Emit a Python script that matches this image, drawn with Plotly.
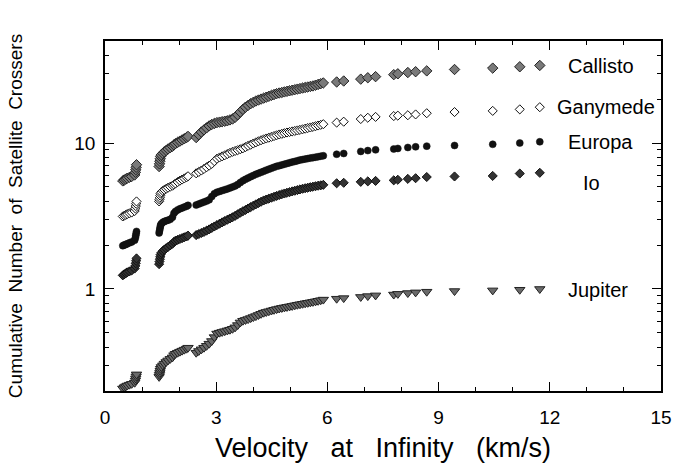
import plotly.graph_objects as go
import numpy as np

# Shared velocities at infinity (km/s) of the crossing objects
velocity = [
    0.48, 0.52, 0.56, 0.60, 0.66, 0.72, 0.80, 0.82, 0.83, 0.84, 0.85,
    1.46, 1.47, 1.48, 1.49, 1.50, 1.52, 1.56, 1.60, 1.65, 1.70,
    1.76, 1.82, 1.86, 1.90, 1.96, 2.02, 2.08, 2.14, 2.20, 2.24,
    2.46, 2.53, 2.60, 2.67, 2.74, 2.81, 2.88, 2.95, 3.02, 3.09,
    3.16, 3.23, 3.30, 3.37, 3.44, 3.51, 3.58, 3.65, 3.72, 3.79,
    3.86, 3.93, 4.00, 4.07, 4.14, 4.21, 4.28, 4.35, 4.42, 4.49,
    4.56, 4.63, 4.70, 4.77, 4.84, 4.91, 4.98, 5.05, 5.12, 5.19,
    5.26, 5.33, 5.40, 5.47, 5.54, 5.61, 5.68, 5.75, 5.82, 5.89,
    6.25, 6.44, 6.90, 7.09, 7.30, 7.79, 7.90, 8.17, 8.38, 8.68,
    9.43, 10.46, 11.19, 11.73,
]

callisto = [
    5.50, 5.58, 5.66, 5.74, 5.82, 5.90, 6.04, 6.30, 6.56, 6.82, 7.10,
    6.90, 7.20, 7.50, 7.80, 8.10, 8.30, 8.50, 8.70, 8.90, 9.10,
    9.30, 9.50, 9.70, 9.90, 10.10, 10.30, 10.50, 10.70, 10.90, 11.10,
    10.9, 11.4, 11.9, 12.3, 12.7, 13.1, 13.4, 13.6, 13.8, 13.9,
    14.0, 14.1, 14.2, 14.4, 14.6, 15.0, 15.6, 16.3, 17.0, 17.6,
    18.1, 18.6, 19.0, 19.4, 19.7, 20.0, 20.3, 20.6, 20.9, 21.2,
    21.5, 21.8, 22.0, 22.2, 22.4, 22.6, 22.8, 23.0, 23.2, 23.4,
    23.6, 23.8, 24.0, 24.2, 24.4, 24.6, 24.9, 25.2, 25.5, 25.8,
    26.2, 26.6, 27.4, 28.0, 28.5, 29.4, 29.8, 30.4, 30.8, 31.2,
    31.9, 32.6, 33.3, 34.0,
]

ganymede = [
    3.14, 3.18, 3.22, 3.26, 3.30, 3.34, 3.42, 3.56, 3.70, 3.84, 3.98,
    3.98, 4.10, 4.22, 4.36, 4.50, 4.60, 4.70, 4.78, 4.86, 4.94,
    5.02, 5.10, 5.18, 5.28, 5.40, 5.52, 5.62, 5.72, 5.82, 5.92,
    6.20, 6.34, 6.48, 6.64, 6.82, 7.00, 7.20, 7.50, 7.80, 7.96,
    8.10, 8.24, 8.40, 8.56, 8.70, 8.82, 8.94, 9.06, 9.20, 9.38,
    9.56, 9.74, 9.92, 10.10, 10.28, 10.44, 10.60, 10.74, 10.88, 11.02,
    11.16, 11.30, 11.44, 11.56, 11.68, 11.80, 11.90, 12.00, 12.10, 12.20,
    12.30, 12.42, 12.54, 12.66, 12.78, 12.90, 13.04, 13.18, 13.32, 13.46,
    13.8, 14.0, 14.6, 14.9, 15.1, 15.3, 15.4, 15.5, 15.7, 16.0,
    16.3, 16.6, 17.0, 17.6,
]

europa = [
    1.98, 2.00, 2.02, 2.04, 2.07, 2.10, 2.16, 2.24, 2.32, 2.40, 2.48,
    2.42, 2.50, 2.58, 2.66, 2.74, 2.80, 2.86, 2.90, 2.93, 2.96,
    3.00, 3.10, 3.30, 3.40, 3.48, 3.54, 3.59, 3.64, 3.69, 3.74,
    3.76, 3.82, 3.88, 3.94, 4.00, 4.08, 4.30, 4.50, 4.60, 4.66,
    4.72, 4.78, 4.85, 4.92, 5.00, 5.08, 5.20, 5.36, 5.52, 5.64,
    5.76, 5.88, 5.99, 6.10, 6.20, 6.30, 6.40, 6.52, 6.62, 6.72,
    6.82, 6.92, 7.00, 7.08, 7.16, 7.24, 7.32, 7.40, 7.48, 7.56,
    7.64, 7.70, 7.76, 7.82, 7.88, 7.94, 8.00, 8.06, 8.12, 8.18,
    8.38, 8.48, 8.76, 8.88, 8.98, 9.10, 9.18, 9.32, 9.42, 9.52,
    9.62, 9.80, 10.00, 10.20,
]

io = [
    1.24, 1.26, 1.28, 1.30, 1.32, 1.34, 1.38, 1.44, 1.50, 1.56, 1.62,
    1.48, 1.54, 1.60, 1.66, 1.72, 1.77, 1.82, 1.86, 1.90, 1.94,
    1.99, 2.04, 2.10, 2.14, 2.17, 2.20, 2.23, 2.26, 2.29, 2.32,
    2.34, 2.38, 2.42, 2.46, 2.51, 2.56, 2.62, 2.68, 2.74, 2.80,
    2.86, 2.92, 2.98, 3.04, 3.10, 3.17, 3.25, 3.33, 3.41, 3.48,
    3.56, 3.64, 3.72, 3.80, 3.88, 3.96, 4.04, 4.10, 4.16, 4.22,
    4.28, 4.34, 4.40, 4.46, 4.51, 4.56, 4.61, 4.66, 4.71, 4.76,
    4.81, 4.86, 4.90, 4.94, 4.98, 5.02, 5.06, 5.10, 5.13, 5.17,
    5.30, 5.34, 5.42, 5.46, 5.50, 5.55, 5.60, 5.68, 5.74, 5.85,
    5.90, 5.95, 6.18, 6.25,
]

jupiter = [
    0.208, 0.212, 0.215, 0.218, 0.221, 0.224, 0.228, 0.236, 0.244, 0.252, 0.260,
    0.250, 0.258, 0.266, 0.275, 0.284, 0.292, 0.300, 0.308, 0.316, 0.324,
    0.332, 0.340, 0.352, 0.360, 0.366, 0.372, 0.378, 0.384, 0.390, 0.396,
    0.366, 0.376, 0.386, 0.396, 0.408, 0.422, 0.440, 0.468, 0.495, 0.502,
    0.508, 0.514, 0.520, 0.526, 0.534, 0.546, 0.566, 0.590, 0.606, 0.614,
    0.622, 0.632, 0.642, 0.652, 0.664, 0.676, 0.688, 0.696, 0.704, 0.712,
    0.720, 0.728, 0.735, 0.742, 0.748, 0.754, 0.760, 0.766, 0.773, 0.780,
    0.786, 0.792, 0.798, 0.804, 0.810, 0.816, 0.823, 0.830, 0.838, 0.846,
    0.858, 0.866, 0.882, 0.894, 0.904, 0.916, 0.926, 0.938, 0.948, 0.958,
    0.968, 0.978, 0.988, 1.000,
]

series_names = ["Callisto", "Ganymede", "Europa", "Io", "Jupiter"]
series_values = [callisto, ganymede, europa, io, jupiter]
label_x = [12.45, 12.15, 12.45, 12.85, 12.45]
label_y = [33.6, 17.6, 10.2, 5.33, 0.985]

styles = {
    "Callisto": dict(symbol="diamond", size=8, color="#7a7a7a", line=dict(color="#222", width=1)),
    "Ganymede": dict(symbol="diamond", size=7, color="white", line=dict(color="#111", width=1)),
    "Europa": dict(symbol="circle", size=7, color="#111", line=dict(color="#111", width=0.5)),
    "Io": dict(symbol="diamond", size=7, color="#333", line=dict(color="#111", width=1)),
    "Jupiter": dict(symbol="triangle-down", size=9, color="#6a6a6a", line=dict(color="#222", width=1)),
}

FONT = "Liberation Sans, Arial, Helvetica, sans-serif"
fig = go.Figure()
for name, vals in zip(series_names, series_values):
    fig.add_trace(go.Scatter(x=velocity, y=vals, mode="markers", name=name,
                             marker=styles[name], showlegend=False))

for name, lx, ly in zip(series_names, label_x, label_y):
    fig.add_annotation(x=lx, y=np.log10(ly), xref="x", yref="y", text=name,
                       showarrow=False, xanchor="left", yanchor="middle",
                       font=dict(family=FONT, size=20, color="black"))

sp = "\u00a0\u00a0\u00a0"
fig.update_layout(
    width=692, height=473,
    margin=dict(l=105, r=31, t=41, b=82),
    paper_bgcolor="white", plot_bgcolor="white",
    font=dict(family=FONT, color="black"),
    xaxis=dict(
        range=[0, 15], tickvals=[0, 3, 6, 9, 12, 15],
        ticks="inside", ticklen=9, tickwidth=1.2, tickcolor="black",
        minor=dict(ticks="inside", dtick=1, tick0=0, ticklen=4, tickcolor="black", tickwidth=1),
        showline=True, linecolor="black", linewidth=1.5, mirror="ticks",
        showgrid=False, zeroline=False, tickfont=dict(size=19),
        ticklabelstandoff=8,
        title=dict(text="Velocity" + sp + "at" + sp + "Infinity" + sp + "(km/s)",
                   font=dict(size=27), standoff=12),
    ),
    yaxis=dict(
        type="log", range=[np.log10(0.2), np.log10(50)],
        tickvals=[1, 10], ticktext=["1", "10"],
        ticks="inside", ticklen=9, tickwidth=1.2, tickcolor="black",
        minor=dict(ticks="inside", ticklen=4, tickcolor="black", tickwidth=1,
                   tickvals=[0.2, 0.3, 0.4, 0.5, 0.6, 0.7, 0.8, 0.9,
                             2, 3, 4, 5, 6, 7, 8, 9, 20, 30, 40]),
        showline=True, linecolor="black", linewidth=1.5, mirror="ticks",
        showgrid=False, zeroline=False, tickfont=dict(size=19),
        ticklabelstandoff=4,
        title=dict(text="Cumulative\u00a0\u00a0Number\u00a0\u00a0of\u00a0\u00a0Satellite\u00a0\u00a0Crossers",
                   font=dict(size=19), standoff=47),
    ),
)

fig.write_html("out.html")
